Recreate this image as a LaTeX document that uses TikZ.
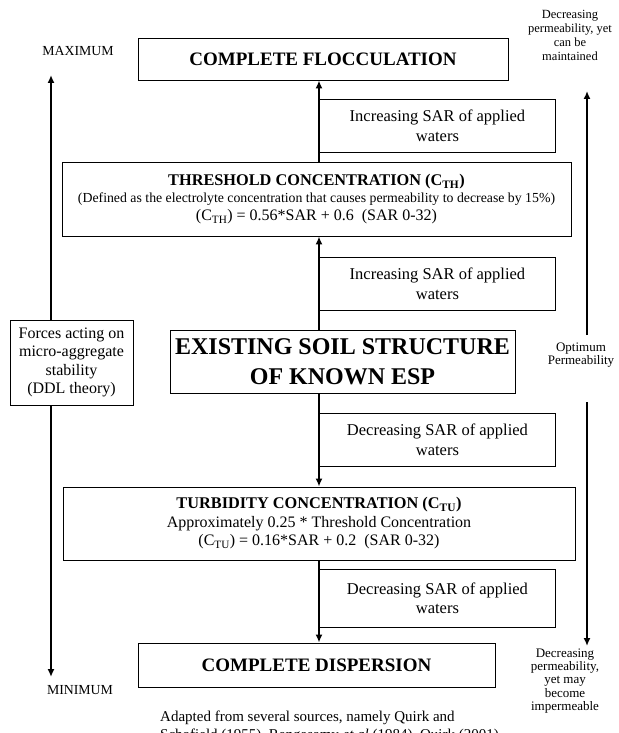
\documentclass[tikz,border=0pt]{standalone}
\usepackage{fontspec}
\setmainfont{Liberation Serif}
\usetikzlibrary{arrows.meta}
\begin{document}
\begin{tikzpicture}[x=1pt,y=-1pt,
  box/.style={draw, line width=0.9pt, inner sep=0pt, align=center},
  sarbox/.style={box, minimum width=236pt, minimum height=53pt, anchor=north west, font=\fontsize{16.5}{19.5}\selectfont},
  headbox/.style={box, font=\bfseries\fontsize{19}{22}\selectfont},
  arr/.style={line width=2pt, -{Latex[length=8pt,width=7pt]}},
  side/.style={align=center, inner sep=0pt, font=\fontsize{12.5}{14}\selectfont},
  limit/.style={inner sep=0pt, font=\fontsize{13.8}{15}\selectfont},
]
\path[use as bounding box] (0,0) rectangle (618,733);
\clip (0,0) rectangle (618,733);

% main boxes
\node[headbox, minimum width=370pt, minimum height=42pt] (floc) at (323,59) {COMPLETE FLOCCULATION};
\node[sarbox] (s1) at (319,99) {Increasing SAR of applied\\waters};
\node[box, minimum width=509pt, minimum height=74pt, font=\fontsize{14}{17.5}\selectfont] (thr) at (316.5,199)
  {{\bfseries\fontsize{16.3}{19}\selectfont THRESHOLD CONCENTRATION (C\textsubscript{TH})}\\
   {\fontsize{13.8}{15}\selectfont (Defined as the electrolyte concentration that causes permeability to decrease by 15\%)}\\
   {\fontsize{16}{17}\selectfont (C\textsubscript{TH}) = 0.56*SAR + 0.6\ \ (SAR 0-32)}};
\node[sarbox] (s2) at (319,257) {Increasing SAR of applied\\waters};
\node[box, minimum width=345pt, minimum height=63pt, font=\bfseries\fontsize{24}{30}\selectfont] (ex) at (342.5,361.5)
  {EXISTING SOIL STRUCTURE\\OF KNOWN ESP};
\node[sarbox] (s3) at (319,413) {Decreasing SAR of applied\\waters};
\node[box, minimum width=512pt, minimum height=73pt, font=\fontsize{16}{18.5}\selectfont] (tu) at (319,523.5)
  {{\bfseries\fontsize{16.3}{19}\selectfont TURBIDITY CONCENTRATION (C\textsubscript{TU})}\\
   Approximately 0.25 * Threshold Concentration\\
   {\fontsize{16}{17}\selectfont (C\textsubscript{TU}) = 0.16*SAR + 0.2\ \ (SAR 0-32)}};
\node[sarbox, minimum height=58pt] (s4) at (319,569) {Decreasing SAR of applied\\waters};
\node[headbox, minimum width=357pt, minimum height=44pt] (disp) at (316.5,665) {COMPLETE DISPERSION};

% left scale
\node[box, minimum width=123pt, minimum height=85pt, font=\fontsize{16}{18.5}\selectfont] (forces) at (71.5,362.5)
  {Forces acting on\\micro-aggregate\\stability\\(DDL theory)};
\node[limit] (maxi) at (78,51) {MAXIMUM};
\node[limit] (mini) at (80,690) {MINIMUM};
\coordinate (ltop) at (51,75);
\coordinate (lbot) at (51,677);

% right scale
\node[side] (rtop) at (570,35) {Decreasing\\permeability, yet\\can be\\maintained};
\node[side, font=\fontsize{13}{13}\selectfont] (opt) at (581,355) {Optimum\\Permeability};
\node[side, font=\fontsize{13}{13.2}\selectfont] (rbottom) at (565,681) {Decreasing\\permeability,\\yet may\\become\\impermeable};
\coordinate (rtopend) at (587,91);
\coordinate (rup) at (587,335);
\coordinate (rdn) at (587,402);
\coordinate (rbotend) at (587,646);

% source note
\node[anchor=north west, inner sep=0pt, align=left, font=\fontsize{15}{18}\selectfont] (src) at (160,711)
  {Adapted from several sources, namely Quirk and\\Schofield (1955), Rengasamy \textit{et al} (1984), Quirk (2001)};

% connectors
\draw[arr] (thr.north -| s1.west) -- (floc.south -| s1.west);
\draw[arr] (ex.north -| s2.west) -- (thr.south -| s2.west);
\draw[arr] (ex.south -| s3.west) -- (tu.north -| s3.west);
\draw[arr] (tu.south -| s4.west) -- (disp.north -| s4.west);
\draw[arr] (forces.north -| ltop) -- (ltop);
\draw[arr] (forces.south -| lbot) -- (lbot);
\draw[arr] (rup) -- (rtopend);
\draw[arr] (rdn) -- (rbotend);
\end{tikzpicture}
\end{document}
